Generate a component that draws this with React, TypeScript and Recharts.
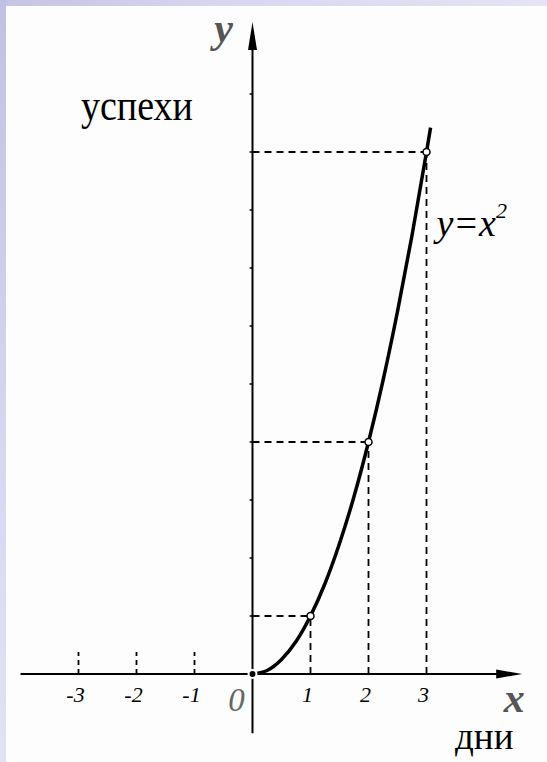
import { ComposedChart, Line, XAxis, YAxis, ReferenceLine, ReferenceDot } from "recharts";

const CURVE_X = [0, 0.25, 0.5, 0.75, 1, 1.25, 1.5, 1.75, 2, 2.25, 2.5, 2.75, 3, 3.07];
const CURVE_Y = [0, 0.06, 0.25, 0.56, 1, 1.56, 2.25, 3.06, 4, 5.06, 6.25, 7.56, 9, 9.42];

// marked points with dashed guides
const MARK_X = [1, 2, 3];
const MARK_Y = [1, 4, 9];

const NEG_TICKS = [-3, -2, -1];
const NEG_LABELS = ["-3", "-2", "-1"];
const POS_TICKS = [1, 2, 3];
const POS_LABELS = ["1", "2", "3"];
const Y_TICKS = [1, 2, 3, 4, 5, 6, 7, 8, 9, 10];

const W = 547;
const H = 762;
const UNIT = 58;
const OX = 252.5;
const OY = 674;
const X_DOMAIN = [-OX / UNIT, (W - OX) / UNIT];
const Y_DOMAIN = [-(H - OY) / UNIT, OY / UNIT];

const X_AXIS_FROM = -4.0;
const X_AXIS_TO = 4.65;
const Y_AXIS_FROM = -1.02;
const Y_AXIS_TO = 11.24;

const data = CURVE_X.map((x, i) => ({ x, y: CURVE_Y[i] }));

const serif = "'Liberation Serif', serif";

const App = () => {
   return (
      <div style={{ position: "absolute", left: 0, top: 0, width: W, height: H, background: "#fdfdfd", overflow: "hidden" }}>
         {/* slide background edges */}
         <div style={{ position: "absolute", left: 0, top: 0, width: W, height: 6, background: "linear-gradient(90deg, #c4c4e4, #d6d6f0 40%, #e4e4f6)" }} />
         <div style={{ position: "absolute", left: 0, top: 0, width: 6, height: H, background: "linear-gradient(180deg, #c0c0e2, #d4d4ee 50%, #e2e2f6)" }} />

         <div
            style={{
               position: "absolute",
               left: 81,
               top: 88,
               fontFamily: serif,
               fontSize: 38,
               color: "#000",
               lineHeight: 1,
               transform: "scaleY(1.15)",
               transformOrigin: "0 33px",
            }}>
            успехи
         </div>
         <div
            style={{
               position: "absolute",
               left: 455,
               top: 718,
               fontFamily: serif,
               fontSize: 37,
               color: "#000",
               lineHeight: 1,
            }}>
            дни
         </div>

         <div style={{ position: "absolute", left: 0, top: 0 }}>
            <ComposedChart width={W} height={H} data={data} margin={{ top: 0, right: 0, bottom: 0, left: 0 }}>
               <XAxis dataKey="x" type="number" domain={X_DOMAIN} allowDataOverflow hide />
               <YAxis type="number" domain={Y_DOMAIN} allowDataOverflow hide />

               {/* axes */}
               <ReferenceLine segment={[{ x: X_AXIS_FROM, y: 0 }, { x: X_AXIS_TO - 0.2, y: 0 }]} stroke="#000" strokeWidth={2} />
               <ReferenceLine segment={[{ x: 0, y: Y_AXIS_FROM }, { x: 0, y: Y_AXIS_TO - 0.3 }]} stroke="#000" strokeWidth={2} />
               <ReferenceDot
                  x={X_AXIS_TO}
                  y={0}
                  shape={(p: any) => (
                     <polygon points={`${p.cx},${p.cy} ${p.cx - 26},${p.cy - 4.5} ${p.cx - 26},${p.cy + 4.5}`} fill="#000" />
                  )}
               />
               <ReferenceDot
                  x={0}
                  y={Y_AXIS_TO}
                  shape={(p: any) => (
                     <polygon points={`${p.cx},${p.cy} ${p.cx - 4.5},${p.cy + 28} ${p.cx + 4.5},${p.cy + 28}`} fill="#000" />
                  )}
               />

               {/* small marks on the y axis */}
               {Y_TICKS.map((v) => (
                  <ReferenceLine key={"yt" + v} segment={[{ x: -0.05, y: v }, { x: 0, y: v }]} stroke="#000" strokeWidth={1.5} />
               ))}

               {/* dashed guides */}
               {NEG_TICKS.map((v) => (
                  <ReferenceLine key={"nt" + v} segment={[{ x: v, y: 0 }, { x: v, y: 0.38 }]} stroke="#000" strokeWidth={1.8} strokeDasharray="5 4" />
               ))}
               {MARK_X.map((v, i) => (
                  <ReferenceLine key={"h" + v} segment={[{ x: 0, y: MARK_Y[i] }, { x: v, y: MARK_Y[i] }]} stroke="#000" strokeWidth={1.8} strokeDasharray="7 5" />
               ))}
               {MARK_X.map((v, i) => (
                  <ReferenceLine key={"v" + v} segment={[{ x: v, y: 0 }, { x: v, y: MARK_Y[i] }]} stroke="#000" strokeWidth={1.8} strokeDasharray="7 5" />
               ))}

               <Line type="monotone" dataKey="y" stroke="#000" strokeWidth={3.5} dot={false} isAnimationActive={false} />

               {MARK_X.map((v, i) => (
                  <ReferenceDot key={"m" + v} x={v} y={MARK_Y[i]} r={3.5} fill="#fff" stroke="#000" strokeWidth={1.5} />
               ))}

               {/* tick labels */}
               {NEG_TICKS.map((v, i) => (
                  <ReferenceDot
                     key={"nl" + v}
                     x={v}
                     y={0}
                     shape={(p: any) => (
                        <text x={p.cx - 3} y={p.cy + 28} textAnchor="middle" fontFamily={serif} fontStyle="italic" fontSize={22} fill="#000">
                           {NEG_LABELS[i]}
                        </text>
                     )}
                  />
               ))}
               {POS_TICKS.map((v, i) => (
                  <ReferenceDot
                     key={"pl" + v}
                     x={v}
                     y={0}
                     shape={(p: any) => (
                        <text x={p.cx - 3} y={p.cy + 28} textAnchor="middle" fontFamily={serif} fontStyle="italic" fontSize={22} fill="#000">
                           {POS_LABELS[i]}
                        </text>
                     )}
                  />
               ))}
               <ReferenceDot
                  x={0}
                  y={0}
                  shape={(p: any) => (
                     <text x={p.cx - 16} y={p.cy + 37} textAnchor="middle" fontFamily={serif} fontStyle="italic" fontSize={33} fill="#666">
                        0
                     </text>
                  )}
               />

               {/* axis names */}
               <ReferenceDot
                  x={0}
                  y={Y_AXIS_TO}
                  shape={(p: any) => (
                     <text x={p.cx - 29} y={p.cy + 20} textAnchor="middle" fontFamily={serif} fontStyle="italic" fontWeight="bold" fontSize={42} fill="#555">
                        y
                     </text>
                  )}
               />
               <ReferenceDot
                  x={X_AXIS_TO}
                  y={0}
                  shape={(p: any) => (
                     <text x={p.cx - 8} y={p.cy + 38} textAnchor="middle" fontFamily={serif} fontStyle="italic" fontWeight="bold" fontSize={42} fill="#555">
                        x
                     </text>
                  )}
               />

               {/* curve label */}
               <ReferenceDot
                  x={3}
                  y={9}
                  shape={(p: any) => (
                     <text x={p.cx + 10} y={p.cy + 84} fontFamily={serif} fontStyle="italic" fontSize={38} fill="#000">
                        y=x<tspan fontSize={22} dy={-18}>2</tspan>
                     </text>
                  )}
               />
            </ComposedChart>
         </div>
      </div>
   );
};

export default App;
